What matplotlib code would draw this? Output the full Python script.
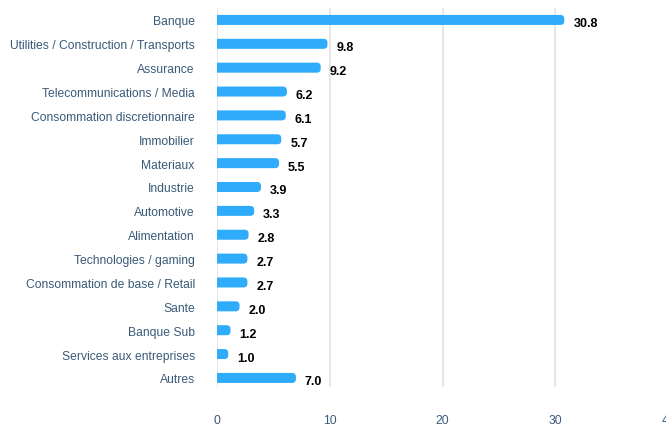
import matplotlib
matplotlib.use("Agg")
import matplotlib.pyplot as plt
from matplotlib.patches import FancyBboxPatch

sectors = ["Banque", "Utilities / Construction / Transports", "Assurance",
           "Telecommunications / Media", "Consommation discretionnaire",
           "Immobilier", "Materiaux", "Industrie", "Automotive", "Alimentation",
           "Technologies / gaming", "Consommation de base / Retail", "Sante",
           "Banque Sub", "Services aux entreprises", "Autres"]
weights = [30.8, 9.8, 9.2, 6.2, 6.1, 5.7, 5.5, 3.9, 3.3, 2.8, 2.7, 2.7, 2.0, 1.2, 1.0, 7.0]
xticks = [0, 10, 20, 30, 40]

plt.rcParams['font.family'] = ['Liberation Sans', 'DejaVu Sans']
label_color = "#3b5a78"
bar_color = "#2eabfb"

fig = plt.figure(figsize=(6.66, 4.27), dpi=100)
ax = fig.add_axes([217 / 666, 39 / 427, (668 - 217) / 666, 379 / 427])
ax.set_xlim(0, 40)
ax.set_ylim(15.38, -0.5)

# px -> data scale, used to keep the corner rounding circular
px_x = 40 / (668 - 217)
px_y = 15.88 / 379
bar_h = 10 * px_y
r = 4 * px_x
for i, v in enumerate(weights):
    p = FancyBboxPatch((-1, i - bar_h / 2), v + 1, bar_h,
                       boxstyle=f"round,pad=0,rounding_size={r}",
                       mutation_aspect=px_y / px_x,
                       fc=bar_color, ec="none", zorder=3)
    ax.add_patch(p)
    ax.annotate(f"{v:.1f}", (v, i), xytext=(6.5, -2.5), textcoords="offset points",
                ha="left", va="center", fontsize=9, fontweight="bold", color="black")

ax.set_yticks(range(len(sectors)))
ax.set_yticklabels(sectors, fontsize=8.75, color=label_color)
ax.set_xticks(xticks)
ax.set_xticklabels([str(t) for t in xticks], fontsize=8.75, color=label_color)
ax.tick_params(axis="y", length=0, pad=16)
ax.tick_params(axis="x", length=0, pad=19.5)
for s in ax.spines.values():
    s.set_visible(False)
ax.grid(axis="x", color="#e3e3e3", linewidth=1.2, zorder=0)
ax.set_axisbelow(True)

fig.savefig("out.png", dpi=100)
